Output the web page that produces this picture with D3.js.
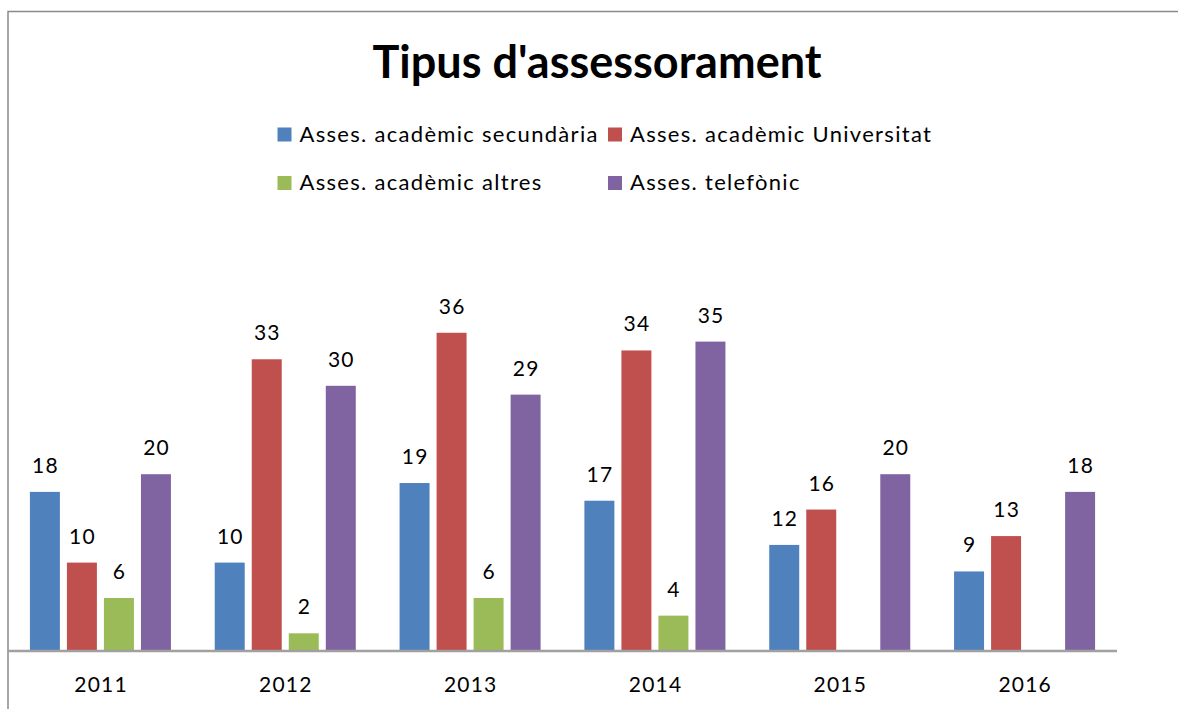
<!DOCTYPE html>
<html>
<head>
<meta charset="utf-8">
<script src="https://cdn.jsdelivr.net/npm/d3@7"></script>
<style>
	html, body { margin: 0; padding: 0; background: #fff; }
	svg { display: block; font-family: Lato, "Open Sans", sans-serif; }
</style>
</head>
<body>
<div id="chart"></div>
<script>
const years = ['2011', '2012', '2013', '2014', '2015', '2016'];
const seriesNames = ['Asses. acadèmic secundària', 'Asses. acadèmic Universitat', 'Asses. acadèmic altres', 'Asses. telefònic'];
const secundaria = [18, 10, 19, 17, 12, 9];
const universitat = [10, 33, 36, 34, 16, 13];
const altres = [6, 2, 6, 4, null, null];
const telefonic = [20, 30, 29, 35, 20, 18];
const colors = ['#4f81bd', '#c0504d', '#9bbb59', '#8064a2'];

(() => {
	const width = 1178, height = 709;
	const baseY = 651, left = 8, right = 1117;
	const allSeries = [secundaria, universitat, altres, telefonic];

	const svg = d3.select('#chart').append('svg')
		.attr('width', width)
		.attr('height', height);

	// frame
	svg.append('path')
		.attr('d', `M${left},${height} L${left},11.5 L${width},11.5`)
		.attr('fill', 'none')
		.attr('stroke', '#8a8a8a')
		.attr('stroke-width', 1.5);

	// title
	svg.append('text')
		.attr('x', 597)
		.attr('y', 78)
		.attr('text-anchor', 'middle')
		.style('font-weight', 'bold')
		.style('font-size', '45px')
		.attr('fill', '#000')
		.text("Tipus d'assessorament");

	// legend
	const legendPos = [[277.5, 141.5], [608, 141.5], [277.5, 190], [608, 190]];
	const legend = svg.selectAll('.legend')
		.data(seriesNames)
		.enter()
		.append('g')
		.attr('class', 'legend')
		.attr('transform', (d, i) => `translate(${legendPos[i][0]},${legendPos[i][1]})`);
	legend.append('rect')
		.attr('x', 0)
		.attr('y', -14)
		.attr('width', 14)
		.attr('height', 14)
		.attr('fill', (d, i) => colors[i]);
	legend.append('text')
		.attr('x', 22)
		.attr('y', 0)
		.style('font-size', '22px')
		.style('letter-spacing', '1.3px')
		.attr('fill', '#000')
		.text((d) => d);

	const x0 = d3.scaleBand()
		.domain(years)
		.range([left, right])
		.paddingInner(0.237)
		.paddingOuter(0.1185);

	const x1 = d3.scaleBand()
		.domain(d3.range(seriesNames.length))
		.range([0, x0.bandwidth()])
		.paddingInner(0.19);

	const y = d3.scaleLinear()
		.domain([0, 40])
		.range([baseY, baseY - 40 * 8.84]);

	const groups = svg.selectAll('.year')
		.data(years)
		.enter()
		.append('g')
		.attr('class', 'year')
		.attr('transform', (d) => `translate(${x0(d)},0)`);

	const cells = groups.selectAll('.bar')
		.data((d, i) => allSeries.map((s, k) => ({ k: k, v: s[i] })).filter((c) => c.v !== null))
		.enter()
		.append('g')
		.attr('class', 'bar');

	cells.append('rect')
		.attr('x', (d) => x1(d.k))
		.attr('y', (d) => y(d.v))
		.attr('width', x1.bandwidth())
		.attr('height', (d) => baseY - y(d.v))
		.attr('fill', (d) => colors[d.k]);

	cells.append('text')
		.attr('x', (d) => x1(d.k) + x1.bandwidth() / 2 + 0.6)
		.attr('y', (d) => y(d.v) - 19)
		.attr('text-anchor', 'middle')
		.style('font-size', '21px')
		.style('letter-spacing', '1.2px')
		.attr('fill', '#000')
		.text((d) => d.v);

	// category axis
	const axis = svg.append('g')
		.attr('transform', `translate(0,${baseY})`)
		.call(d3.axisBottom(x0).tickSize(0).tickPadding(0));
	axis.select('.domain')
		.attr('d', `M${left},0 H${right}`)
		.attr('stroke', '#a0a0a0')
		.attr('stroke-width', 2.5);
	axis.selectAll('.tick text')
		.attr('x', 0.6)
		.attr('y', 41)
		.attr('dy', 0)
		.style('font-family', 'Lato, "Open Sans", sans-serif')
		.style('font-size', '21px')
		.style('letter-spacing', '1.2px')
		.attr('fill', '#000');
})();
</script>
</body>
</html>
